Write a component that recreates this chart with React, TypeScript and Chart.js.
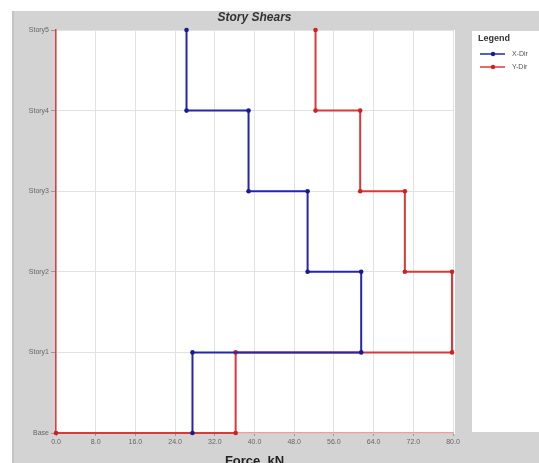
import React, { useEffect, useRef } from "react";
import { Chart, registerables } from "chart.js";

Chart.register(...registerables);

const storyLabels = ["Base", "Story1", "Story2", "Story3", "Story4", "Story5"];
const xTickValues = [0, 8, 16, 24, 32, 40, 48, 56, 64, 72, 80];
// shear per story, listed Story5 -> Story1
const xDirShear = [26.3, 38.8, 50.7, 61.5, 27.5];
const yDirShear = [52.3, 61.3, 70.3, 79.8, 36.2];
const xDirBaseEnd: number[] = [];
const yDirBaseEnd: number[] = [0];

function stepPoints(shears: number[], baseEnd: number[]) {
  const pts: { x: number; y: number }[] = [];
  const top = storyLabels.length - 1;
  shears.forEach((v, i) => {
    const level = top - i;
    pts.push({ x: v, y: level });
    pts.push({ x: v, y: level - 1 });
  });
  baseEnd.forEach((v) => pts.push({ x: v, y: 0 }));
  return pts;
}

const FONT = "'Liberation Sans', Arial, sans-serif";

const decorPlugin = {
  id: "decor",
  beforeDraw(chart: any) {
    const { ctx, chartArea } = chart;
    ctx.save();
    ctx.fillStyle = "#ffffff";
    ctx.fillRect(0, 0, chart.width, chart.height);
    ctx.fillStyle = "#d3d3d3";
    ctx.fillRect(12, 11, chart.width - 12, chart.height - 11);
    ctx.fillStyle = "#c4c4c4";
    ctx.fillRect(12, 11, 2, chart.height - 11);
    ctx.fillStyle = "#ffffff";
    ctx.fillRect(chartArea.left, chartArea.top, chartArea.right - chartArea.left + 2, chartArea.bottom - chartArea.top + 1);
    ctx.fillRect(472, 31, chart.width - 472, 401);
    ctx.restore();
  },
  afterDraw(chart: any) {
    const { ctx, chartArea } = chart;
    const cx = (chartArea.left + chartArea.right) / 2;
    ctx.save();
    ctx.fillStyle = "#333333";
    ctx.font = `italic bold 12px ${FONT}`;
    ctx.textAlign = "center";
    ctx.textBaseline = "middle";
    ctx.fillText("Story Shears", cx, 18);
    ctx.font = `bold 13px ${FONT}`;
    ctx.fillStyle = "#222222";
    ctx.textBaseline = "alphabetic";
    ctx.fillText("Force, kN", cx, 465);

    // legend
    ctx.textAlign = "left";
    ctx.textBaseline = "middle";
    ctx.font = `bold 9px ${FONT}`;
    ctx.fillStyle = "#333333";
    ctx.fillText("Legend", 478, 39);
    const items = chart.data.datasets;
    items.forEach((ds: any, i: number) => {
      const y = 54 + i * 13;
      ctx.strokeStyle = ds.borderColor;
      ctx.lineWidth = 1.5;
      ctx.beginPath();
      ctx.moveTo(480, y);
      ctx.lineTo(505, y);
      ctx.stroke();
      ctx.fillStyle = ds.pointBackgroundColor;
      ctx.beginPath();
      ctx.arc(493, y, 2.2, 0, Math.PI * 2);
      ctx.fill();
      ctx.fillStyle = "#555555";
      ctx.font = `7px ${FONT}`;
      ctx.fillText(ds.label, 512, y);
    });
    ctx.restore();
  },
};

export default function App() {
  const ref = useRef<HTMLCanvasElement>(null);
  useEffect(() => {
    if (!ref.current) return;
    const chart = new Chart(ref.current, {
      type: "scatter",
      data: {
        datasets: [
          {
            label: "X-Dir",
            data: stepPoints(xDirShear, xDirBaseEnd),
            showLine: true,
            clip: false,
            borderColor: "#2626ad",
            backgroundColor: "#1a1a90",
            pointBackgroundColor: "#1a1a90",
            pointBorderColor: "#1a1a90",
            borderWidth: 2,
            pointRadius: 2.3,
            pointBorderWidth: 0,
          },
          {
            label: "Y-Dir",
            data: stepPoints(yDirShear, yDirBaseEnd),
            showLine: true,
            clip: false,
            borderColor: "#d83a3a",
            backgroundColor: "#d02020",
            pointBackgroundColor: "#d02020",
            pointBorderColor: "#d02020",
            borderWidth: 2,
            pointRadius: 2.3,
            pointBorderWidth: 0,
          },
        ],
      },
      options: {
        animation: false,
        responsive: false,
        layout: { padding: { top: 30, right: 86, left: 0, bottom: 0 } },
        plugins: { legend: { display: false }, tooltip: { enabled: false }, title: { display: false } },
        scales: {
          x: {
            type: "linear",
            min: 0,
            max: 80,
            afterFit: (s: any) => { s.height = 30; },
            afterBuildTicks: (s: any) => { s.ticks = xTickValues.map((v) => ({ value: v })); },
            ticks: {
              callback: (v: any) => Number(v).toFixed(1),
              font: { family: FONT, size: 7 },
              color: "#666666",
              padding: 2,
              maxRotation: 0,
            },
            grid: { color: "#e2e2e2", tickColor: "#999999", tickLength: 3 },
            border: { color: "#e8a0a0", width: 1.5 },
          },
          y: {
            type: "linear",
            min: 0,
            max: storyLabels.length - 1,
            afterFit: (s: any) => { s.width = 56; },
            afterBuildTicks: (s: any) => { s.ticks = storyLabels.map((_, i) => ({ value: i })); },
            ticks: {
              callback: (v: any) => storyLabels[v],
              font: { family: FONT, size: 7 },
              color: "#666666",
              padding: 2,
            },
            grid: { color: "#e2e2e2", tickColor: "#999999", tickLength: 5 },
            border: { color: "#d84040", width: 1.5 },
          },
        },
      },
      plugins: [decorPlugin],
    });
    return () => chart.destroy();
  }, []);
  return (
    <div style={{ position: "fixed", left: 0, top: 0 }}>
      <canvas ref={ref} width={539} height={463} style={{ display: "block" }} />
    </div>
  );
}
